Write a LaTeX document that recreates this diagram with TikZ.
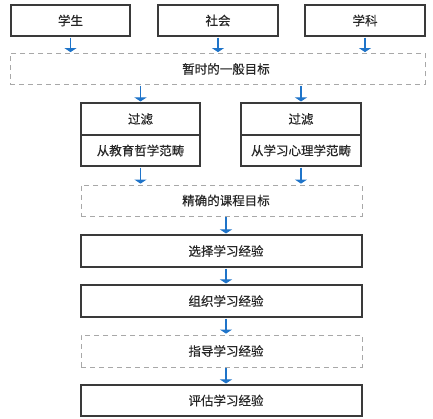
\documentclass[tikz,border=0pt]{standalone}
\usepackage{fontspec}
\newfontfamily\cjk[FakeBold=0.4]{Noto Sans CJK SC}
\usetikzlibrary{arrows.meta}
\definecolor{arrowblue}{HTML}{1F74C9}
\definecolor{boxline}{HTML}{3A3A3A}
\definecolor{dashline}{HTML}{A8A8A8}
\tikzset{
  solidbox/.style={draw=boxline, line width=1.1pt, fill=white, minimum height=31pt, inner sep=0pt, font=\cjk\fontsize{12.5}{14}\selectfont, text=black!85},
  dashbox/.style={draw=dashline, line width=0.8pt, dash pattern=on 5pt off 4pt, fill=white, minimum height=31pt, inner sep=0pt, font=\cjk\fontsize{12.5}{14}\selectfont, text=black!85},
  flow/.style={draw=arrowblue, line width=1.1pt, -{Triangle[width=12pt,length=4pt]}, shorten <=1pt, shorten >=1pt},
}
\begin{document}
\begin{tikzpicture}[x=1pt,y=-1pt]
\useasboundingbox (0,0) rectangle (433,419);
% top row
\node[solidbox, minimum width=119pt] (xs) at (70.5,20.5) {学生};
\node[solidbox, minimum width=120pt] (sh) at (218,20.5) {社会};
\node[solidbox, minimum width=120pt] (xk) at (365,20.5) {学科};
\node[dashbox, minimum width=415pt] (zs) at (217.5,69) {\hspace{17pt}暂时的一般目标};
% filters
\node[solidbox, minimum width=119pt, minimum height=32pt] (gl1) at (140.5,119) {过滤};
\node[solidbox, minimum width=119pt, minimum height=31pt] (jy) at (140.5,150.5) {从教育哲学范畴};
\node[solidbox, minimum width=120pt, minimum height=32pt] (gl2) at (301,119) {过滤};
\node[solidbox, minimum width=120pt, minimum height=31pt] (xl) at (301,150.5) {从学习心理学范畴};
\node[dashbox, minimum width=281pt] (jq) at (221.5,200.5) {\hspace{9pt}精确的课程目标};
\node[solidbox, minimum width=281pt, minimum height=32pt] (xz) at (221.5,251) {\hspace{9pt}选择学习经验};
\node[solidbox, minimum width=281pt, minimum height=32pt] (zz) at (221.5,301) {\hspace{9pt}组织学习经验};
\node[dashbox, minimum width=281pt, minimum height=32pt] (zd) at (221.5,351) {\hspace{9pt}指导学习经验};
\node[solidbox, minimum width=281pt] (pg) at (221.5,400.5) {\hspace{9pt}评估学习经验};
% arrows
\draw[flow] (xs.south) -- (xs.south |- zs.north);
\draw[flow] (sh.south) -- (sh.south |- zs.north);
\draw[flow] (xk.south) -- (xk.south |- zs.north);
\draw[flow] (zs.south -| gl1.north) -- (gl1.north);
\draw[flow] (zs.south -| gl2.north) -- (gl2.north);
\draw[flow] (jy.south) -- (jy.south |- jq.north);
\draw[flow] (xl.south) -- (xl.south |- jq.north);
\draw[flow] ([xshift=4.5pt]jq.south) -- ([xshift=4.5pt]xz.north);
\draw[flow] ([xshift=4.5pt]xz.south) -- ([xshift=4.5pt]zz.north);
\draw[flow] ([xshift=4.5pt]zz.south) -- ([xshift=4.5pt]zd.north);
\draw[flow] ([xshift=4.5pt]zd.south) -- ([xshift=4.5pt]pg.north);
\end{tikzpicture}
\end{document}
